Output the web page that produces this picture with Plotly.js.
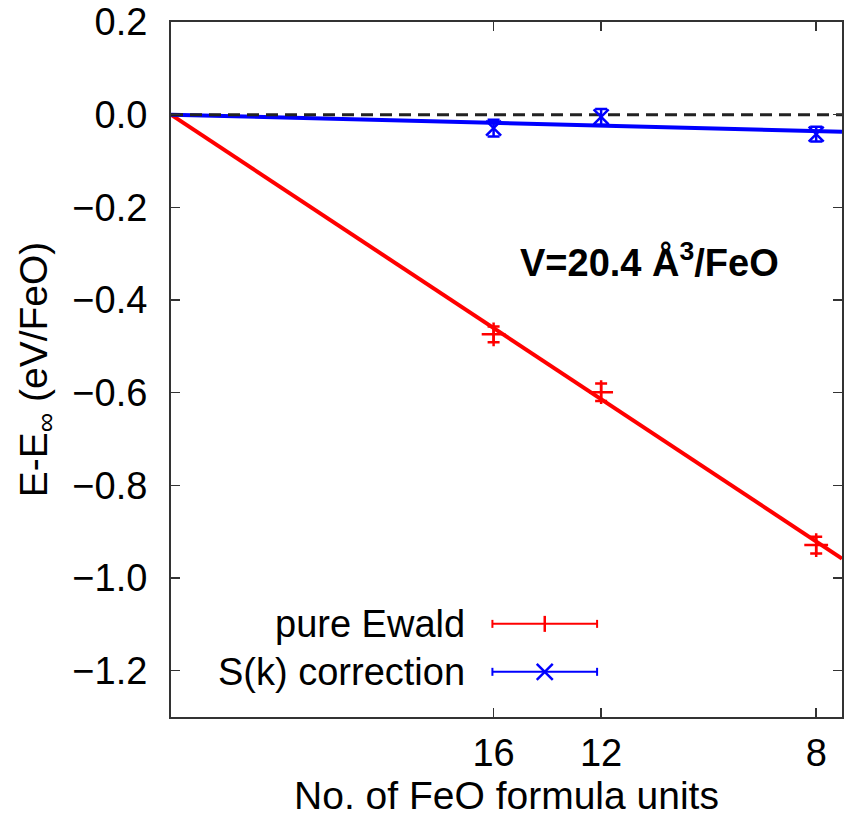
<!DOCTYPE html>
<html>
<head>
<meta charset="utf-8">
<script src="https://cdn.plot.ly/plotly-3.0.1.min.js"></script>
<style>html,body{margin:0;padding:0;background:#fff;}#chart{width:846px;height:825px;}</style>
</head>
<body>
<div id="chart"></div>
<script>
// ---- data ----
const nUnits = [16, 12, 8];                 // No. of FeO formula units
const ewaldE = [-0.474, -0.599, -0.929];    // pure Ewald, eV/FeO
const ewaldErr = [0.017, 0.019, 0.018];
const skE = [-0.029, -0.005, -0.042];       // S(k) correction, eV/FeO
const skErr = [0.018, 0.017, 0.016];
const fitX = [0, 0.13];                     // 1/N extent of the fit lines
const ewaldFit = [0, -0.958];
const skFit = [0, -0.037];
const refX = [0, 0.13];
const refY = [0, 0];
const tickN = [16, 12, 8];
const tickLabels = ['16', '12', '8'];
const legendNames = ['pure Ewald', 'S(k) correction'];

const invN = nUnits.map(n => 1 / n);
const tickVals = tickN.map(n => 1 / n);

const FONT = 'Liberation Sans, Arial, Helvetica, sans-serif';
const FS = 38;
const RED = '#ff0000', BLUE = '#0000ff', FRAME = '#333333';

// legend key placement (fractions of plot area)
const keyX = 0.557, keyHalf = 0.078, keyY = [0.134, 0.065], keyTextX = 0.441;

const traces = [
  {x: fitX, y: ewaldFit, mode: 'lines', line: {color: RED, width: 4}, hoverinfo: 'skip'},
  {x: fitX, y: skFit, mode: 'lines', line: {color: BLUE, width: 4}, hoverinfo: 'skip'},
  {x: refX, y: refY, mode: 'lines', line: {color: '#222', width: 3, dash: '12px,7px'}, hoverinfo: 'skip'},
  {x: invN, y: ewaldE, mode: 'markers',
   marker: {symbol: 'cross-thin', size: 17, line: {color: RED, width: 2.5}},
   error_y: {type: 'data', array: ewaldErr, visible: true, color: RED, thickness: 2.5, width: 6}},
  {x: invN, y: skE, mode: 'markers',
   marker: {symbol: 'x-thin', size: 15, line: {color: BLUE, width: 2.5}},
   error_y: {type: 'data', array: skErr, visible: true, color: BLUE, thickness: 2.5, width: 6}}
];

function keyShapes(yf, color, kind) {
  const base = {xref: 'paper', yref: 'paper', layer: 'above'};
  const ln = {color: color, width: 2};
  const s = [
    Object.assign({}, base, {type: 'line', x0: keyX - keyHalf, x1: keyX + keyHalf, y0: yf, y1: yf, line: ln}),
    Object.assign({}, base, {type: 'line', x0: keyX - keyHalf, x1: keyX - keyHalf,
      ysizemode: 'pixel', yanchor: yf, y0: -4, y1: 4, line: ln}),
    Object.assign({}, base, {type: 'line', x0: keyX + keyHalf, x1: keyX + keyHalf,
      ysizemode: 'pixel', yanchor: yf, y0: -4, y1: 4, line: ln})
  ];
  const mk = Object.assign({}, base, {xsizemode: 'pixel', ysizemode: 'pixel', xanchor: keyX, yanchor: yf});
  const mln = {color: color, width: 2.5};
  if (kind === 'plus') {
    s.push(Object.assign({}, mk, {type: 'line', x0: 0, x1: 0, y0: -8, y1: 8, line: mln}));
  } else {
    s.push(Object.assign({}, mk, {type: 'line', x0: -8, x1: 8, y0: -8, y1: 8, line: mln}));
    s.push(Object.assign({}, mk, {type: 'line', x0: -8, x1: 8, y0: 8, y1: -8, line: mln}));
  }
  return s;
}

const axisCommon = {
  showline: true, linecolor: FRAME, linewidth: 2, mirror: 'ticks',
  ticks: 'inside', ticklen: 9, tickwidth: 1.5, tickcolor: FRAME,
  showgrid: false, zeroline: false,
  tickfont: {family: FONT, size: FS, color: '#000'}
};

const layout = {
  width: 846, height: 825,
  margin: {l: 171, r: 4, t: 22, b: 108},
  paper_bgcolor: '#fff', plot_bgcolor: '#fff',
  showlegend: false,
  font: {family: FONT, size: FS, color: '#000'},
  xaxis: Object.assign({}, axisCommon, {
    range: [0, 0.13], tickvals: tickVals, ticktext: tickLabels,
    ticklabelstandoff: 1,
    title: {text: 'No. of FeO formula units', font: {family: FONT, size: 39, color: '#000'}, standoff: 2}
  }),
  yaxis: Object.assign({}, axisCommon, {
    range: [-1.3, 0.2], tickvals: [0.2, 0, -0.2, -0.4, -0.6, -0.8, -1.0, -1.2],
    tickformat: '.1f', ticklabelstandoff: 14,
    title: {text: 'E-E<sub>∞</sub> (eV/FeO)', font: {family: FONT, size: 39, color: '#000'}, standoff: 13}
  }),
  shapes: keyShapes(keyY[0], RED, 'plus').concat(keyShapes(keyY[1], BLUE, 'x')),
  annotations: [
    {x: 0.0927, y: -0.314, xref: 'x', yref: 'y', showarrow: false,
     text: '<b>V=20.4 Å<sup>3</sup>/FeO</b>', font: {family: FONT, size: 38, color: '#000'}},
    {x: keyTextX, y: keyY[0], xref: 'paper', yref: 'paper', xanchor: 'right', yanchor: 'middle',
     showarrow: false, text: legendNames[0], font: {family: FONT, size: FS, color: '#000'}},
    {x: keyTextX, y: keyY[1], xref: 'paper', yref: 'paper', xanchor: 'right', yanchor: 'middle',
     showarrow: false, text: legendNames[1], font: {family: FONT, size: FS, color: '#000'}}
  ]
};

Plotly.newPlot('chart', traces, layout, {displayModeBar: false, staticPlot: true});
</script>
</body>
</html>
